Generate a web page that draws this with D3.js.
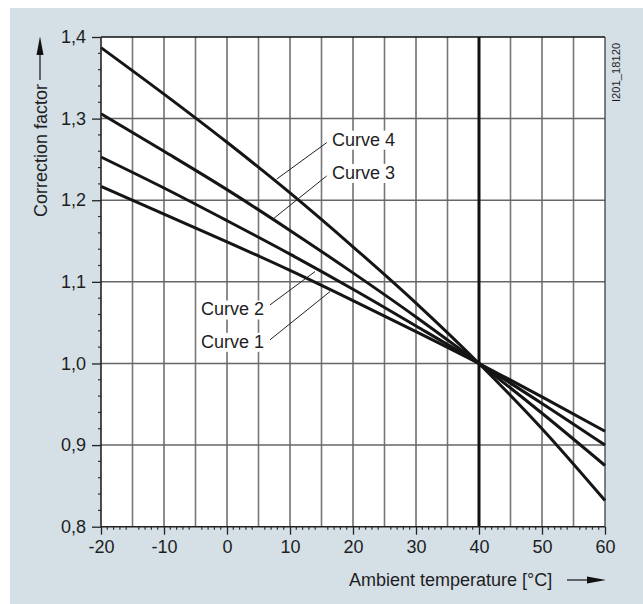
<!DOCTYPE html>
<html><head><meta charset="utf-8">
<script src="https://cdn.jsdelivr.net/npm/d3@7"></script>
<style>
html,body{margin:0;padding:0;background:#fff;}
svg{display:block;}
text{font-family:"Liberation Sans",Arial,Helvetica,sans-serif;fill:#1e1e1e;}
</style></head>
<body>
<script>
// ---- data ----
const temperatures = [-20, -10, 0, 10, 20, 30, 40, 50, 60];
const curve1 = [1.217, 1.183, 1.149, 1.114, 1.077, 1.039, 1.000, 0.959, 0.917];
const curve2 = [1.253, 1.215, 1.175, 1.134, 1.091, 1.046, 1.000, 0.951, 0.900];
const curve3 = [1.306, 1.260, 1.213, 1.163, 1.111, 1.057, 1.000, 0.939, 0.875];
const curve4 = [1.387, 1.330, 1.271, 1.209, 1.143, 1.074, 1.000, 0.920, 0.832];
const curveNames = ["Curve 1", "Curve 2", "Curve 3", "Curve 4"];
const xTickLabels = ["-20", "-10", "0", "10", "20", "30", "40", "50", "60"];
const yTickLabels = ["0,8", "0,9", "1,0", "1,1", "1,2", "1,3", "1,4"];
const yTickValues = [0.8, 0.9, 1.0, 1.1, 1.2, 1.3, 1.4];
const referenceTemp = 40;
const xTitle = "Ambient temperature [°C]";
const yTitle = "Correction factor";
const drawingId = "I201_18120";

// label annotation placement (data units): text anchor + leader line start/end
const labelPlacement = [
  {name: "Curve 4", tx: 16.67, ty: 1.2669, anchor: "start", l1: [15.83, 1.2706], l2: [7.9, 1.226]},
  {name: "Curve 3", tx: 16.67, ty: 1.2261, anchor: "start", l1: [15.83, 1.2298], l2: [7.46, 1.178]},
  {name: "Curve 2", tx: 5.87, ty: 1.0588, anchor: "end", l1: [6.83, 1.0718], l2: [13.97, 1.1126]},
  {name: "Curve 1", tx: 5.87, ty: 1.0192, anchor: "end", l1: [6.83, 1.029], l2: [16.35, 1.0881]}
];

const W = 643, H = 604;
const svg = d3.select("body").append("svg").attr("width", W).attr("height", H);

svg.append("rect").attr("x", 10).attr("y", 8).attr("width", W - 10).attr("height", H - 8)
  .attr("fill", "#d4dfe6");

const x = d3.scaleLinear().domain([-20, 60]).range([101, 605]);
const y = d3.scaleLinear().domain([0.8, 1.4]).range([526.7, 37]);

const g = svg.append("g");
// plot background
g.append("rect").attr("x", x(-20)).attr("y", y(1.4))
  .attr("width", x(60) - x(-20)).attr("height", y(0.8) - y(1.4)).attr("fill", "#fff");

// vertical grid every 5
const v5 = d3.range(-15, 60, 5);
g.selectAll(".vg").data(v5).enter().append("line")
  .attr("x1", d => x(d)).attr("x2", d => x(d)).attr("y1", y(1.4)).attr("y2", y(0.8))
  .attr("stroke", d => d % 10 === 0 ? "#1a1a1a" : "#777")
  .attr("stroke-width", d => d % 10 === 0 ? 1 : 1.6);
// horizontal grid
g.selectAll(".hg").data(yTickValues.slice(1, -1)).enter().append("line")
  .attr("x1", x(-20)).attr("x2", x(60)).attr("y1", d => y(d)).attr("y2", d => y(d))
  .attr("stroke", "#666").attr("stroke-width", 1.5);

// reference line at 40
g.append("line").attr("x1", x(referenceTemp)).attr("x2", x(referenceTemp))
  .attr("y1", y(1.4)).attr("y2", y(0.8)).attr("stroke", "#111").attr("stroke-width", 3);

// frame
g.append("line").attr("x1", x(-20)).attr("x2", x(60)).attr("y1", y(1.4)).attr("y2", y(1.4))
  .attr("stroke", "#111").attr("stroke-width", 1.6);
g.append("line").attr("x1", x(60)).attr("x2", x(60)).attr("y1", y(1.4)).attr("y2", y(0.8))
  .attr("stroke", "#333").attr("stroke-width", 1.2);

// minor ticks
const yMinor = d3.range(0.82, 1.4, 0.02).filter(v => Math.abs(Math.round(v * 10) - v * 10) > 0.05);
g.selectAll(".ym").data(yMinor).enter().append("line")
  .attr("x1", x(-20) - 3).attr("x2", x(-20)).attr("y1", d => y(d)).attr("y2", d => y(d))
  .attr("stroke", "#333").attr("stroke-width", 1.2);
const xMinor = d3.range(-19, 60, 1).filter(v => v % 5 !== 0);
g.selectAll(".xm").data(xMinor).enter().append("line")
  .attr("x1", d => x(d)).attr("x2", d => x(d)).attr("y1", y(0.8)).attr("y2", y(0.8) + 3)
  .attr("stroke", "#333").attr("stroke-width", 1.2);

// axes
const yAxis = d3.axisLeft(y).tickValues(yTickValues).tickSize(9).tickPadding(6)
  .tickFormat((d, i) => yTickLabels[i]);
const ya = svg.append("g").attr("transform", `translate(${x(-20)},0)`).call(yAxis);
const xAxis = d3.axisBottom(x).tickValues(temperatures).tickSize(8).tickPadding(6)
  .tickFormat((d, i) => xTickLabels[i]);
const xa = svg.append("g").attr("transform", `translate(0,${y(0.8)})`).call(xAxis);
[ya, xa].forEach(a => {
  a.select(".domain").attr("stroke", "#222").attr("stroke-width", 1.6);
  a.selectAll(".tick line").attr("stroke", "#222").attr("stroke-width", 1.3);
  a.selectAll(".tick text").attr("font-size", 18).attr("fill", "#1e1e1e")
    .attr("font-family", '"Liberation Sans",Arial,sans-serif');
});
ya.select(".domain").attr("d", `M0,${y(1.4)}V${y(0.8)}`);
xa.select(".domain").attr("d", `M${x(-20)},0H${x(60)}`);

// curves
const series = [curve1, curve2, curve3, curve4];
const line = d3.line().x((d, i) => x(temperatures[i])).y(d => y(d)).curve(d3.curveMonotoneX);
g.selectAll(".curve").data(series).enter().append("path")
  .attr("d", d => line(d)).attr("fill", "none").attr("stroke", "#151515").attr("stroke-width", 3);

// labels
const lab = svg.append("g");
labelPlacement.forEach(p => {
  const t = lab.append("text").attr("x", x(p.tx)).attr("y", y(p.ty))
    .attr("text-anchor", p.anchor).attr("font-size", 18).text(p.name);
  const bb = t.node().getBBox();
  lab.insert("rect", "text").attr("x", bb.x - 2).attr("y", bb.y + 1)
    .attr("width", bb.width + 4).attr("height", bb.height - 1).attr("fill", "#fff");
  lab.append("line").attr("x1", x(p.l1[0])).attr("y1", y(p.l1[1]))
    .attr("x2", x(p.l2[0])).attr("y2", y(p.l2[1])).attr("stroke", "#222").attr("stroke-width", 1);
});

// x title + arrow
svg.append("text").attr("x", 349).attr("y", 586).attr("font-size", 18).text(xTitle);
svg.append("line").attr("x1", 567).attr("x2", 590).attr("y1", 580).attr("y2", 580)
  .attr("stroke", "#222").attr("stroke-width", 1.3);
svg.append("path").attr("d", "M587,576.5L606,580L587,583.5Z").attr("fill", "#111");

// y title + arrow
svg.append("text").attr("transform", "translate(46.5,217) rotate(-90)")
  .attr("font-size", 18).text(yTitle);
svg.append("line").attr("x1", 40).attr("x2", 40).attr("y1", 80).attr("y2", 52)
  .attr("stroke", "#222").attr("stroke-width", 1.3);
svg.append("path").attr("d", "M36.5,55L40,36.5L43.5,55Z").attr("fill", "#111");

// drawing id
svg.append("text").attr("transform", "translate(620,102) rotate(-90)")
  .attr("font-size", 11.2).text(drawingId);
</script>
</body></html>
